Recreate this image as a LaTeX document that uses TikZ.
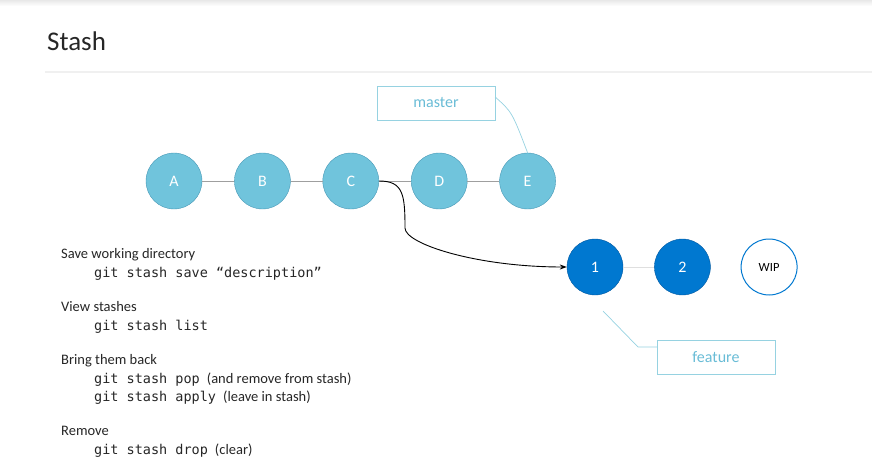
\documentclass[tikz,border=0pt]{standalone}
\usepackage{fontspec}
\setmainfont{Carlito}
\setmonofont{DejaVu Sans Mono}
\usetikzlibrary{positioning,arrows.meta}
\definecolor{lightcommit}{RGB}{112,196,220}
\definecolor{lightedge}{RGB}{72,152,182}
\definecolor{darkcommit}{RGB}{0,120,208}
\definecolor{darkedge}{RGB}{0,88,160}
\definecolor{boxedge}{RGB}{150,210,225}
\definecolor{boxtext}{RGB}{105,188,214}
\tikzstyle{commit} = [circle,minimum size=56pt,inner sep=0pt,draw=lightedge,fill=lightcommit,text=white,font=\fontsize{16}{18}\selectfont]
\tikzstyle{stashed} = [commit,draw=darkedge,fill=darkcommit]
\tikzstyle{wipnode} = [circle,minimum size=56pt,inner sep=0pt,draw=darkcommit,line width=1pt,fill=white,font=\fontsize{12.5}{14}\selectfont]
\tikzstyle{branch} = [draw=boxedge,text=boxtext,minimum width=118pt,minimum height=34pt,font=\fontsize{16}{18}\selectfont]
\tikzstyle{link} = [draw=gray!75,line width=0.6pt]
\tikzstyle{callout} = [draw=boxedge,line width=0.7pt]
\tikzstyle{label} = [anchor=base west,inner sep=0pt,text=black!85,font=\fontsize{14.5}{17}\selectfont]
\tikzstyle{cmd} = [label]
\newcommand{\gitcmd}[1]{{\fontsize{13.5}{16}\selectfont\ttfamily #1}}

\begin{document}
\begin{tikzpicture}[x=1pt,y=-1pt,node distance=32pt]
           \useasboundingbox (0,0) rectangle (872,465);
           \shade[top color=gray!18,bottom color=white] (0,0) rectangle (872,6);
           \node[anchor=base west,inner sep=0pt,text=black!85,font=\fontsize{27}{32}\selectfont] (title) at (47,51) {Stash};
           \draw[gray!12,line width=2pt] (45,72) -- (872,72);
           % master branch
           \node[commit] (cA) at (174,181) {A};
           \node[commit] (cB) [right = of cA] {B};
           \node[commit] (cC) [right = of cB] {C};
           \node[commit] (cD) [right = of cC] {D};
           \node[commit] (cE) [right = of cD] {E};
           \path[link] (cA) -- (cB);
           \path[link] (cB) -- (cC);
           \path[link] (cC) -- (cD);
           \path[link] (cD) -- (cE);
           \node[branch] (master) at (436,103) {master};
           \path[callout] (master.east |- 0,97) .. controls (512,112) .. (cE.north);
           % stash
           \node[stashed] (s1) at (595,267) {1};
           \node[stashed] (s2) [right = 31pt of s1] {2};
           \node[wipnode] (wip) [right = 30pt of s2] {WIP};
           \path[draw=gray!25,line width=0.6pt] (s1) -- (s2);
           \draw[-{Stealth[length=7pt,width=5pt]},line width=0.9pt] (cC.east) .. controls +(24,0) and +(0,-34) .. (405,228) .. controls +(0,16) and +(-90,0) .. (s1.west);
           \node[branch] (feature) at (716,357) {feature};
           \coordinate (bend) at (638,347);
           \path[callout] (603,311) -- (bend) -- (feature.west |- bend);
           % commands
           \node[label] (save) at (61,258) {Save working directory};
           \node[cmd] (savecmd) at (94,277) {\gitcmd{git stash save “description”}};
           \node[label] (view) at (61,311) {View stashes};
           \node[cmd] (viewcmd) at (94,330) {\gitcmd{git stash list}};
           \node[label] (back) at (61,364) {Bring them back};
           \node[cmd] (popcmd) at (94,383) {\gitcmd{git stash pop}\hspace{7pt}(and remove from stash)};
           \node[cmd] (applycmd) at (94,401) {\gitcmd{git stash apply}\hspace{7pt}(leave in stash)};
           \node[label] (remove) at (61,435) {Remove};
           \node[cmd] (dropcmd) at (94,454) {\gitcmd{git stash drop}\hspace{7pt}(clear)};
        \end{tikzpicture}
\end{document}
